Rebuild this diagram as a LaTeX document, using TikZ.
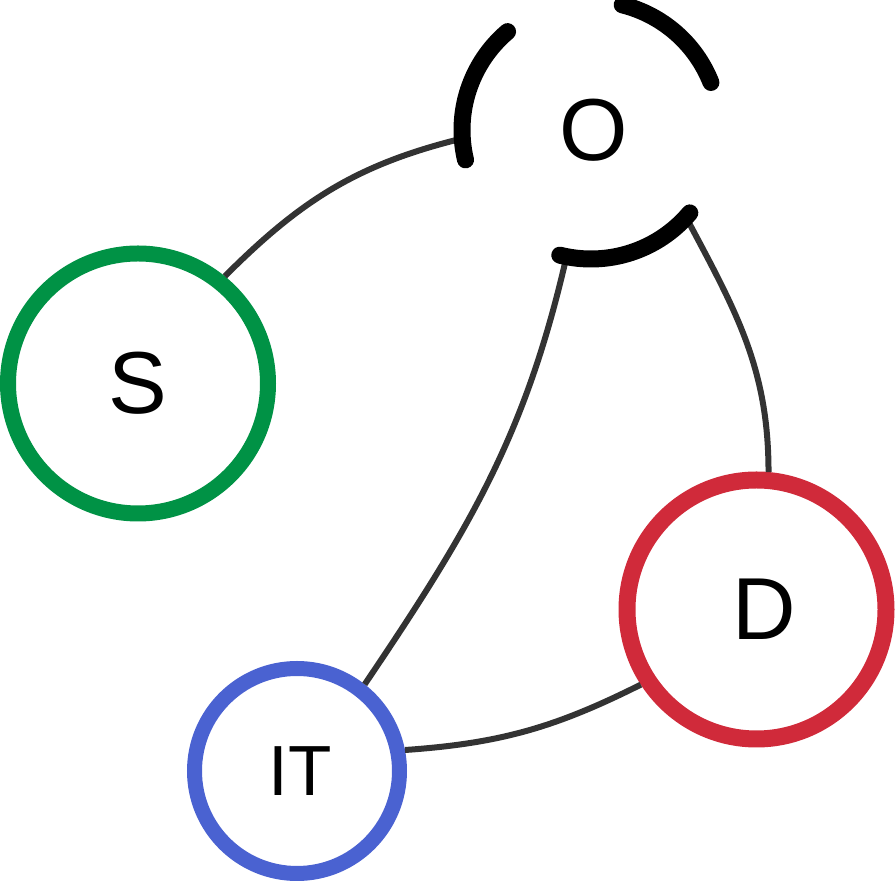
\documentclass[tikz,border=0pt]{standalone}
\usepackage{fontspec}
\setmainfont{Liberation Sans}
\definecolor{sgreen}{RGB}{0,146,69}
\definecolor{dred}{RGB}{208,42,58}
\definecolor{itblue}{RGB}{74,98,209}
\definecolor{edgegray}{RGB}{51,51,51}
\tikzset{
  ring/.style={circle, draw=#1, fill=white, inner sep=0pt},
  bigtext/.style={font=\fontsize{88}{100}\selectfont},
  smalltext/.style={font=\fontsize{71}{80}\selectfont},
  edge/.style={draw=edgegray, line width=6pt},
  oarc/.style={draw=black, line width=17pt, line cap=round},
}
\begin{document}
\begin{tikzpicture}[x=1pt,y=1pt]
\useasboundingbox (0,0) rectangle (895,881);
% nodes
\node[ring=sgreen, line width=16pt, minimum size=260pt, bigtext] (S) at (138,497.5) {S};
\node[ring=dred, line width=17pt, minimum size=259pt, bigtext] (D) at (756.5,271.5) {\hspace*{15pt}D};
\node[ring=itblue, line width=15pt, minimum size=205pt, smalltext] (IT) at (297,110) {\hspace*{6pt}IT};
\node[circle, inner sep=0pt, outer sep=0pt, minimum size=264pt, bigtext] (O) at (591,751) {\hspace*{6pt}O};
% connectors
\draw[edge] (S.51) to[out=45,in=194] (O.184);
\draw[edge] (O.259.5) to[out=257,in=56] (IT.52);
\draw[edge] (O.317) to[out=-62,in=90] (D.85.6);
\draw[edge] (IT.11.5) to[out=4,in=206.6] (D.213.6);
% dashed ring of O
\draw[oarc] (O.center) ++(130.3:129pt) arc[start angle=130.3, end angle=193.4, radius=129pt];
\draw[oarc] (O.center) ++(21.6:129pt) arc[start angle=21.6, end angle=76, radius=129pt];
\draw[oarc] (O.center) ++(256:129pt) arc[start angle=256, end angle=320, radius=129pt];
\end{tikzpicture}
\end{document}
